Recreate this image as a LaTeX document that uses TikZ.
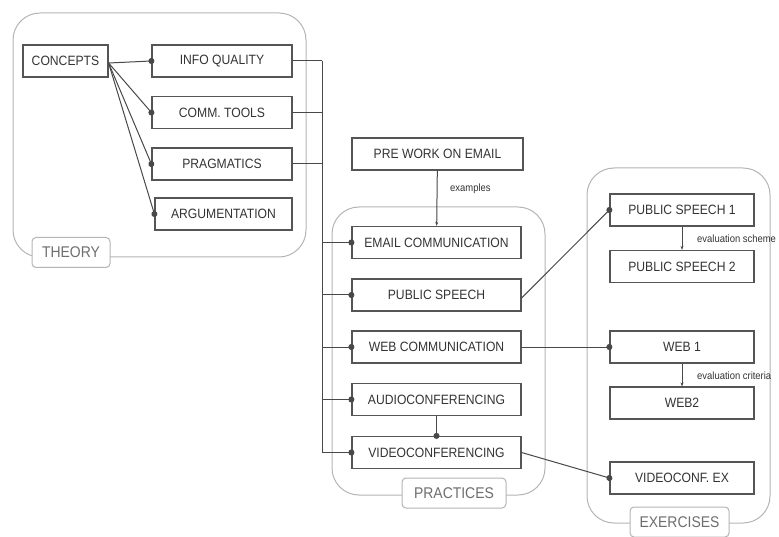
\documentclass[tikz,border=0pt]{standalone}
\usepackage{fontspec}
\setmainfont[FakeStretch=0.9]{Liberation Sans}
\usetikzlibrary{arrows.meta,positioning}

\definecolor{linegray}{HTML}{484848}
\definecolor{boxgray}{HTML}{555555}
\definecolor{txtgray}{HTML}{333333}
\definecolor{framegray}{HTML}{B4B4B4}
\definecolor{tabgray}{HTML}{6E6E6E}

\begin{document}
\begin{tikzpicture}[x=1pt,y=-1pt,
  box/.style={draw=boxgray, line width=1.2pt, minimum height=32pt, inner sep=0pt,
    text=txtgray, font=\fontsize{13.5}{15}\selectfont},
  group/.style={draw=framegray, line width=1pt, rounded corners=27pt},
  grouptab/.style={draw=framegray, line width=1pt, fill=white, rounded corners=4pt,
    inner sep=0pt, minimum height=30pt, text=tabgray, font=\fontsize{15.5}{17}\selectfont},
  conn/.style={draw=linegray, line width=1pt},
  dotend/.style={conn, -{Circle[length=6pt]}, shorten >=-3pt},
  dotarr/.style={conn, -{Stealth[length=4pt,width=3pt]}},
  note/.style={text=txtgray, font=\fontsize{10.5}{12}\selectfont, inner sep=0pt, anchor=west}]
  \useasboundingbox (0,0) rectangle (779,537);
  % group frames
  \draw[group] (13,13) rectangle (306,257);
  \draw[group] (332,207) rectangle (545,495);
  \draw[group] (587,168) rectangle (770,523);
  % theory
  \node[box, minimum width=85pt] (concepts) at (65.5,61) {CONCEPTS};
  \node[box, minimum width=140pt] (info) at (222,61) {INFO QUALITY};
  \node[box, minimum width=140pt] (comm) at (222,112.5) {COMM. TOOLS};
  \node[box, minimum width=140pt] (prag) at (222,164) {PRAGMATICS};
  \node[box, minimum width=137pt] (argu) at (223.5,214) {ARGUMENTATION};
  % practices
  \node[box, minimum width=171pt] (prework) at (437.5,154) {PRE WORK ON EMAIL};
  \node[box, minimum width=169pt] (email) at (436.5,242.5) {EMAIL COMMUNICATION};
  \node[box, minimum width=169pt] (speech) at (436.5,295) {PUBLIC SPEECH};
  \node[box, minimum width=169pt] (webcomm) at (436.5,347) {WEB COMMUNICATION};
  \node[box, minimum width=169pt] (audio) at (436.5,399.5) {AUDIOCONFERENCING};
  \node[box, minimum width=169pt] (video) at (436.5,452.5) {VIDEOCONFERENCING};
  % exercises
  \node[box, minimum width=144pt] (speech1) at (682,210) {PUBLIC SPEECH 1};
  \node[box, minimum width=144pt] (speech2) at (682,266.5) {PUBLIC SPEECH 2};
  \node[box, minimum width=144pt] (web1) at (682,347) {WEB 1};
  \node[box, minimum width=144pt] (web2) at (682,403) {WEB2};
  \node[box, minimum width=144pt] (videoex) at (682,478) {VIDEOCONF. EX};
  % group tabs
  \node[grouptab, minimum width=78pt] (theory) at (71,252.5) {THEORY};
  \node[grouptab, minimum width=104pt] (practices) at (454,493) {PRACTICES};
  \node[grouptab, minimum width=99pt] (exercises) at (679.5,522) {EXERCISES};
  % concepts fan
  \foreach \t in {info,comm,prag,argu}
    \draw[dotend] ([yshift=-2pt]concepts.east) -- (\t.west);
  % bus from theory to practices
  \coordinate (bus) at (322,0);
  \foreach \t in {info,comm,prag}
    \draw[conn] (\t.east) -- (\t.east -| bus);
  \draw[conn] (bus |- info.east) -- (bus |- video.west);
  \foreach \t in {email,speech,webcomm,audio,video}
    \draw[dotend] (bus |- \t.west) -- (\t.west);
  % practices to exercises
  \draw[dotarr] (prework) -- (email);
  \node[note] (examples) at (450,189) {examples};
  \draw[dotend] (audio) -- (video);
  \draw[dotend] ([yshift=-3pt]speech.east) -- (speech1.west);
  \draw[dotend] (webcomm.east) -- (web1.west);
  \draw[dotend] (video.east) -- (videoex.west);
  \draw[dotarr] (speech1) -- (speech2);
  \node[note] (scheme) at (697,239) {evaluation scheme};
  \draw[dotarr] (web1) -- (web2);
  \node[note] (criteria) at (697,376) {evaluation criteria};
\end{tikzpicture}
\end{document}
